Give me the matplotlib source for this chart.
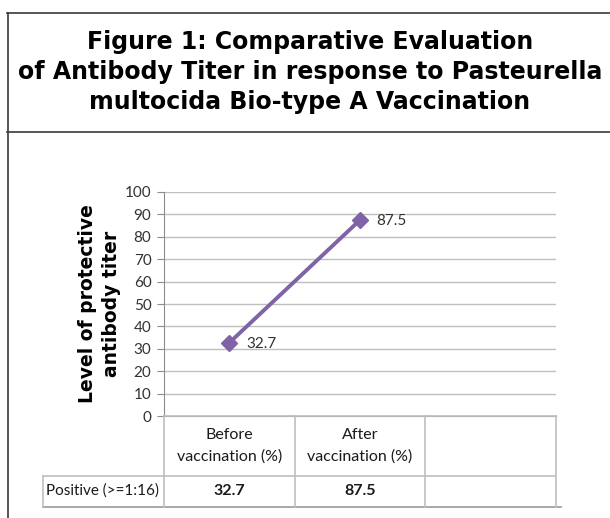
import matplotlib.pyplot as plt
from matplotlib.lines import Line2D

#### Data
categories = ["Before\nvaccination (%)", "After\nvaccination (%)", ""]
values = [32.7, 87.5]
row_label = "Positive (>=1:16)"
table_values = ["32.7", "87.5", ""]
title = ("Figure 1: Comparative Evaluation\n"
         "of Antibody Titer in response to Pasteurella\n"
         "multocida Bio-type A Vaccination")
ylabel = "Level of protective\nantibody titer"
yticks = list(range(0, 101, 10))

W, H = 610, 518
purple = "#7F63A6"
grid_c = "#BFBFBF"
frame_c = "#3A3A3A"
body_font = ["Lato", "DejaVu Sans"]

fig = plt.figure(figsize=(W / 100, H / 100), dpi=100)

def px(x, y):
    # pixel position (from top-left) -> figure fraction
    return x / W, 1 - y / H

def hline(x0, x1, y, **kw):
    (a, b), (c, _) = px(x0, y), px(x1, y)
    fig.add_artist(Line2D([a, c], [b, b], transform=fig.transFigure, **kw))

def vline(x, y0, y1, **kw):
    (a, b), (_, d) = px(x, y0), px(x, y1)
    fig.add_artist(Line2D([a, a], [b, d], transform=fig.transFigure, **kw))

#### Title box
hline(7, W + 5, 13, color=frame_c, lw=1.2)
hline(7, W + 5, 132, color=frame_c, lw=1.2)
vline(7.5, 13, H + 5, color=frame_c, lw=1.2)
tx, ty = px(310, 72)
fig.text(tx, ty, title, ha="center", va="center", fontsize=17,
         fontweight="bold", family="DejaVu Sans", linespacing=1.3)

#### Chart area
ax = fig.add_axes([164 / W, 102 / H, (556 - 164) / W, (416 - 192) / H])
x = list(range(len(values)))
ax.plot(x, values, color=purple, lw=2.8, marker="D", markersize=8,
        markeredgecolor=purple, markerfacecolor=purple)
for xi, v in zip(x, values):
    ax.annotate(f"{v}", (xi, v), xytext=(12, -1), textcoords="offset points",
                ha="left", va="center", fontsize=11, color="#333333",
                family=body_font)

ax.set_xlim(-0.5, len(categories) - 0.5)
ax.set_ylim(0, 100)
ax.set_yticks(yticks)
ax.set_xticks([])
ax.yaxis.grid(True, color=grid_c, lw=1)
ax.set_axisbelow(True)
for s in ["top", "right"]:
    ax.spines[s].set_visible(False)
ax.spines["left"].set_color("#8C8C8C")
ax.spines["bottom"].set_color("#8C8C8C")
ax.tick_params(axis="y", colors="#8C8C8C", length=5, labelcolor="#333333",
               labelsize=11, pad=4)
for lab in ax.get_yticklabels():
    lab.set_family(body_font)
ax.set_ylabel(ylabel, fontsize=13.5, fontweight="bold", family="DejaVu Sans",
              labelpad=3, linespacing=1.3)

#### Data table under the axis
tcol = "#BFBFBF"
col_edges = [164, 294.7, 425.3, 556]
hline(164, 556, 416, color=tcol, lw=1.2)
hline(43, 556, 476, color=tcol, lw=1.2)
hline(43, 561, 507, color="#999999", lw=1.2)
for cx in col_edges:
    vline(cx, 416, 507, color=tcol, lw=1.2)
vline(43, 476, 507, color=tcol, lw=1.2)

for i, (cat, val) in enumerate(zip(categories, table_values)):
    cx = (col_edges[i] + col_edges[i + 1]) / 2
    a, b = px(cx, 446)
    fig.text(a, b, cat, ha="center", va="center", fontsize=11.5,
             family=body_font, color="#1A1A1A", linespacing=1.7)
    a, b = px(cx, 491)
    fig.text(a, b, val, ha="center", va="center", fontsize=11.5,
             fontweight="bold", family=body_font, color="#1A1A1A")
a, b = px(103, 491)
fig.text(a, b, row_label, ha="center", va="center", fontsize=11,
         family=body_font, color="#1A1A1A")

fig.savefig("out.png", dpi=100)
